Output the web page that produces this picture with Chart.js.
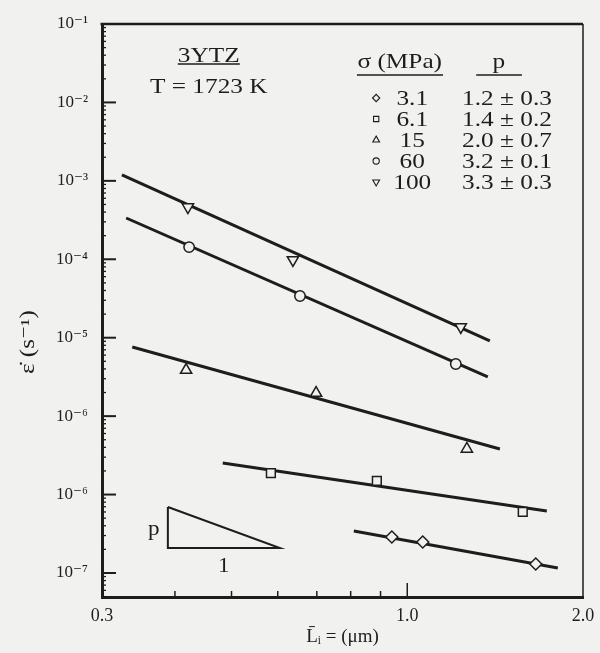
<!DOCTYPE html>
<html>
<head>
<meta charset="utf-8">
<title>3YTZ strain rate vs grain size</title>
<script src="https://cdn.jsdelivr.net/npm/chart.js@4.4.1/dist/chart.umd.min.js"></script>
<style>
  html, body { margin: 0; padding: 0; background: #f1f1ef; }
  #wrap { width: 600px; height: 653px; }
</style>
</head>
<body>
<div id="wrap"><canvas id="creep" width="600" height="653"></canvas></div>
<script>
// stress levels (MPa) and grain size exponent p
const stressLabels = ['3.1', '6.1', '15', '60', '100'];
const pLabels = ['1.2 ± 0.3', '1.4 ± 0.2', '2.0 ± 0.7', '3.2 ± 0.1', '3.3 ± 0.3'];

// measured points: grain size (µm) -> strain rate (1/s)
const size31 = [0.941, 1.063, 1.660];
const rate31 = [2.88e-8, 2.48e-8, 1.30e-8];
const size61 = [0.584, 0.887, 1.577];
const rate61 = [1.88e-7, 1.49e-7, 6.0e-8];
const size15 = [0.418, 0.698, 1.265];
const rate15 = [3.87e-6, 1.97e-6, 3.81e-7];
const size60 = [0.423, 0.655, 1.211];
const rate60 = [1.43e-4, 3.40e-5, 4.62e-6];
const size100 = [0.421, 0.637, 1.235];
const rate100 = [4.64e-4, 9.8e-5, 1.37e-5];

// fitted lines (end points)
const fitSize31 = [0.810, 1.811];
const fitRate31 = [3.43e-8, 1.16e-8];
const fitSize61 = [0.483, 1.734];
const fitRate61 = [2.53e-7, 6.18e-8];
const fitSize15 = [0.338, 1.441];
const fitRate15 = [7.62e-6, 3.81e-7];
const fitSize60 = [0.330, 1.374];
const fitRate60 = [3.36e-4, 3.16e-6];
const fitSize100 = [0.3245, 1.385];
const fitRate100 = [1.19e-3, 9.08e-6];

// slope guide triangle
const guideSize = [0.389, 0.389, 0.605, 0.389];
const guideRate = [6.95e-8, 2.08e-8, 2.08e-8, 6.95e-8];

// axis ticks
const xTicks = [0.3, 1.0, 2.0];
const xTickLabels = ['0.3', '1.0', '2.0'];
const xMinor = [0.4, 0.5, 0.6, 0.7, 0.8, 0.9];
const yTicks = [1e-1, 1e-2, 1e-3, 1e-4, 1e-5, 1e-6, 1e-7, 1e-8];
const yTickLabels = ['10⁻¹', '10⁻²', '10⁻³', '10⁻⁴', '10⁻⁵', '10⁻⁶', '10⁻⁶', '10⁻⁷'];

const ink = '#1d1d1d';
const paper = '#f1f1ef';
const serif = '"Liberation Serif", "DejaVu Serif", serif';

const pts = (xs, ys) => xs.map((x, i) => ({ x: x, y: ys[i] }));

const series = [
  { size: size31, rate: rate31, fx: fitSize31, fy: fitRate31 },
  { size: size61, rate: rate61, fx: fitSize61, fy: fitRate61 },
  { size: size15, rate: rate15, fx: fitSize15, fy: fitRate15 },
  { size: size60, rate: rate60, fx: fitSize60, fy: fitRate60 },
  { size: size100, rate: rate100, fx: fitSize100, fy: fitRate100 }
];
const markers = [
  { style: 'rectRot', rot: 0, r: 6 },
  { style: 'rect', rot: 0, r: 6.2 },
  { style: 'triangle', rot: 0, r: 6.5 },
  { style: 'circle', rot: 0, r: 5.2 },
  { style: 'triangle', rot: 180, r: 6.5 }
];

const datasets = [];
series.forEach((s, i) => {
  datasets.push({
    label: stressLabels[i] + ' MPa',
    data: pts(s.size, s.rate),
    pointStyle: markers[i].style,
    rotation: markers[i].rot,
    pointRadius: markers[i].r,
    pointBorderWidth: 1.5,
    pointBorderColor: ink,
    pointBackgroundColor: paper,
    showLine: false,
    order: 0
  });
  datasets.push({
    label: 'fit ' + stressLabels[i],
    data: pts(s.fx, s.fy),
    showLine: true,
    borderColor: ink,
    borderWidth: 3,
    pointRadius: 0,
    order: 1
  });
});
datasets.push({
  label: 'slope',
  data: pts(guideSize, guideRate),
  showLine: true,
  borderColor: ink,
  borderWidth: 2,
  pointRadius: 0,
  order: 1
});

function line(ctx, x1, y1, x2, y2) {
  ctx.beginPath();
  ctx.moveTo(x1, y1);
  ctx.lineTo(x2, y2);
  ctx.stroke();
}

function text(ctx, str, x, y, size, align, sx, baseline) {
  ctx.save();
  ctx.translate(x, y);
  ctx.scale(sx || 1, 1);
  ctx.font = size + 'px ' + serif;
  ctx.textAlign = align || 'center';
  ctx.textBaseline = baseline || 'alphabetic';
  ctx.fillStyle = ink;
  ctx.fillText(str, 0, 0);
  ctx.restore();
}

const decor = {
  id: 'decor',
  beforeDraw(chart) {
    const ctx = chart.ctx;
    ctx.save();
    ctx.fillStyle = paper;
    ctx.fillRect(0, 0, chart.width, chart.height);
    ctx.restore();
  },
  afterDraw(chart) {
    const { ctx, chartArea: a, scales: { x, y } } = chart;
    ctx.save();
    ctx.strokeStyle = ink;
    ctx.lineCap = 'butt';

    // top and right frame
    ctx.lineWidth = 2.5;
    line(ctx, a.left - 1.5, a.top, a.right, a.top);
    ctx.lineWidth = 1.5;
    line(ctx, a.right, a.top, a.right, a.bottom);

    // y ticks (inside)
    ctx.lineWidth = 2;
    yTicks.forEach(v => {
      const py = y.getPixelForValue(v);
      line(ctx, a.left, py, a.left + 14, py);
    });
    ctx.lineWidth = 1.3;
    for (let d = 1e-9; d < 0.1; d *= 10) {
      for (let m = 2; m <= 9; m++) {
        const v = m * d;
        if (v < y.min || v > y.max) continue;
        const py = y.getPixelForValue(v);
        line(ctx, a.left, py, a.left + 4, py);
      }
    }

    // x ticks (inside)
    ctx.lineWidth = 1.5;
    xMinor.forEach(v => {
      const px = x.getPixelForValue(v);
      line(ctx, px, a.bottom, px, a.bottom - 6);
    });
    const p1 = x.getPixelForValue(1.0);
    line(ctx, p1, a.bottom, p1, a.bottom - 14);

    // material / temperature
    const cx = a.left + 0.222 * a.width;
    text(ctx, '3YTZ', cx, a.top + 38, 22, 'center', 1.15);
    ctx.lineWidth = 1.5;
    line(ctx, cx - 31, a.top + 40, cx + 31, a.top + 40);
    text(ctx, 'T = 1723 K', cx, a.top + 69, 22, 'center', 1.15);

    // legend table
    const sx = a.left + 0.645 * a.width;   // stress column centre
    const px = a.left + 0.842 * a.width;   // p column centre
    const symX = a.left + 0.570 * a.width;
    text(ctx, 'σ (MPa)', a.left + 0.619 * a.width, a.top + 44, 22, 'center', 1.15);
    text(ctx, 'p', a.left + 0.825 * a.width, a.top + 44, 22, 'center', 1.15);
    ctx.lineWidth = 1.5;
    line(ctx, a.left + 0.530 * a.width, a.top + 51, a.left + 0.709 * a.width, a.top + 51);
    line(ctx, a.left + 0.778 * a.width, a.top + 51, a.left + 0.873 * a.width, a.top + 51);
    stressLabels.forEach((s, i) => {
      const base = a.top + 81 + 21 * i;
      text(ctx, s, sx, base, 22, 'center', 1.15);
      text(ctx, pLabels[i], px, base, 22, 'center', 1.15);
      ctx.fillStyle = paper;
      ctx.strokeStyle = ink;
      ctx.lineWidth = 1.1;
      Chart.helpers.drawPoint(ctx, {
        pointStyle: markers[i].style,
        rotation: markers[i].rot,
        radius: markers[i].r * 0.6,
        borderWidth: 1.1
      }, symX, base - 7);
    });

    // slope guide labels
    const gx = x.getPixelForValue(guideSize[0]);
    const gx2 = x.getPixelForValue(guideSize[2]);
    const gyTop = y.getPixelForValue(guideRate[0]);
    const gyBot = y.getPixelForValue(guideRate[1]);
    text(ctx, 'p', gx - 14, (gyTop + gyBot) / 2 + 2, 21, 'center', 1.1, 'middle');
    text(ctx, '1', (gx + gx2) / 2, gyBot + 18, 21, 'center', 1.1, 'middle');

    // y axis title
    ctx.save();
    ctx.translate(29, 342);
    ctx.rotate(-Math.PI / 2);
    ctx.scale(1.25, 1);
    ctx.font = '20px ' + serif;
    ctx.textAlign = 'center';
    ctx.textBaseline = 'middle';
    ctx.fillStyle = ink;
    ctx.fillText('ε̇ (s⁻¹)', 0, 0);
    ctx.restore();

    ctx.restore();
  }
};

new Chart(document.getElementById('creep'), {
  type: 'scatter',
  data: { datasets: datasets },
  options: {
    responsive: false,
    animation: false,
    layout: { padding: { top: 24, right: 17, left: 0, bottom: 0 } },
    plugins: { legend: { display: false }, tooltip: { enabled: false } },
    scales: {
      x: {
        type: 'logarithmic',
        min: 0.3,
        max: 2.0,
        grid: { display: false },
        border: { display: true, color: ink, width: 3 },
        afterBuildTicks: s => { s.ticks = xTicks.map(v => ({ value: v })); },
        afterFit: s => { s.height = 56; },
        ticks: {
          color: ink,
          font: { family: serif, size: 18 },
          padding: 0,
          maxRotation: 0,
          autoSkip: false,
          callback: (v, i) => xTickLabels[i]
        },
        title: {
          display: true,
          text: 'L̄ᵢ = (μm)',
          color: ink,
          font: { family: serif, size: 19 },
          padding: { top: 0, bottom: 5 }
        }
      },
      y: {
        type: 'logarithmic',
        min: 4.94e-9,
        max: 0.1,
        grid: { display: false },
        border: { display: true, color: ink, width: 3 },
        afterBuildTicks: s => { s.ticks = yTicks.map(v => ({ value: v })); },
        afterFit: s => { s.width = 102; },
        ticks: {
          color: ink,
          font: { family: serif, size: 17 },
          padding: 6,
          autoSkip: false,
          callback: (v, i) => yTickLabels[i]
        }
      }
    }
  },
  plugins: [decor]
});
</script>
</body>
</html>
